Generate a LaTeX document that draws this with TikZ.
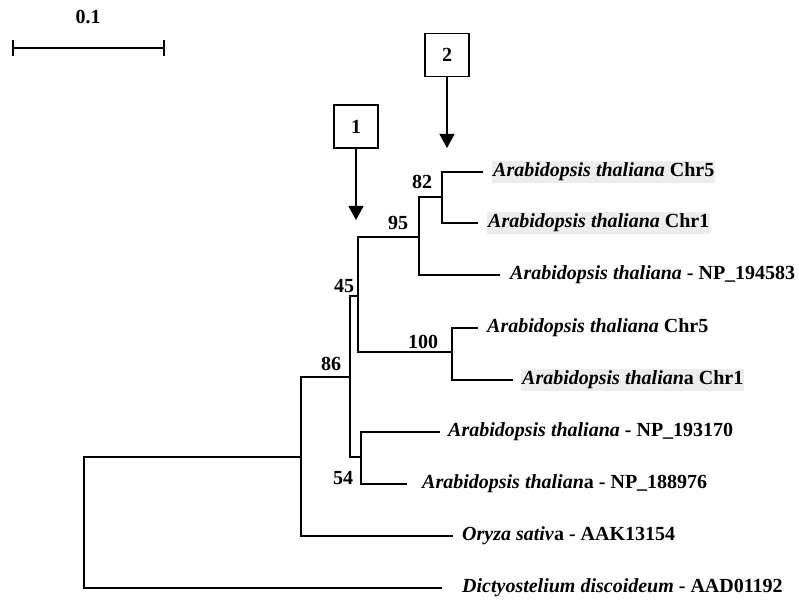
\documentclass[tikz,border=0pt]{standalone}
\usepackage{fontspec}
\setmainfont{Liberation Serif}
\usetikzlibrary{arrows.meta}
\begin{document}
\begin{tikzpicture}[x=1pt,y=-1pt,
  branch/.style={line width=1.3pt},
  txt/.style={font=\fontsize{20}{24}\selectfont\bfseries},
  leaf/.style={txt, anchor=west, inner xsep=1pt, inner ysep=2pt},
  hl/.style={fill=black!7},
  boot/.style={txt, inner sep=0pt},
  markbox/.style={draw, line width=1.2pt, txt, minimum width=44pt, minimum height=43pt, inner sep=0pt},
  pointer/.style={line width=1.2pt, -{Triangle[width=15pt,length=14pt]}}]
\useasboundingbox (0,0) rectangle (799,601);

% scale bar
\coordinate (sa) at (13,48);
\coordinate (sb) at (164,48);
\draw[branch] (sa) -- (sb);
\draw[branch] ([yshift=-8pt]sa) -- ([yshift=8pt]sa);
\draw[branch] ([yshift=-8pt]sb) -- ([yshift=8pt]sb);
\node[boot] (scale) at (88,17) {0.1};

% internal nodes (vertical line x, attachment y)
\coordinate (root) at (84,457);
\coordinate (n86) at (301,457);
\coordinate (nA) at (350,377);
\coordinate (n45) at (358,296);
\coordinate (n54) at (361,457);
\coordinate (n95) at (419,237);
\coordinate (n100) at (452,352);
\coordinate (n82) at (442,197);

% leaf ends
\coordinate (l1) at (483,172);
\coordinate (l2) at (478,223);
\coordinate (l3) at (500,275);
\coordinate (l4) at (478,328);
\coordinate (l5) at (513,380);
\coordinate (l6) at (440,432);
\coordinate (l7) at (407,484);
\coordinate (l8) at (453,536);
\coordinate (l9) at (442,588);

% branches
\draw[branch] (l1) -| (n82) |- (l2);
\draw[branch] (n82) -| (n95) |- (l3);
\draw[branch] (l4) -| (n100) |- (l5);
\draw[branch] (n95) -| (n45) |- (n100);
\draw[branch] (l6) -| (n54) |- (l7);
\draw[branch] (n45) -| (nA) |- (n54);
\draw[branch] (nA) -| (n86) |- (l8);
\draw[branch] (n86) -| (root) |- (l9);

% leaf labels
\node[leaf, hl] (t1) at ([xshift=9pt]l1) {\textit{Arabidopsis thaliana} Chr5};
\node[leaf, hl] (t2) at ([xshift=9pt]l2) {\textit{Arabidopsis thaliana} Chr1};
\node[leaf] (t3) at ([xshift=9pt]l3) {\textit{Arabidopsis thaliana} - NP\_194583};
\node[leaf] (t4) at ([xshift=8pt]l4) {\textit{Arabidopsis thaliana} Chr5};
\node[leaf, hl] (t5) at ([xshift=8pt]l5) {\textit{Arabidopsis thalian}a Chr1};
\node[leaf] (t6) at ([xshift=7pt]l6) {\textit{Arabidopsis thaliana} - NP\_193170};
\node[leaf] (t7) at ([xshift=14pt]l7) {\textit{Arabidopsis thalian}a - NP\_188976};
\node[leaf] (t8) at ([xshift=8pt]l8) {\textit{Oryza sativ}a - AAK13154};
\node[leaf] (t9) at ([xshift=19pt]l9) {\textit{Dictyostelium discoideum} - AAD01192};

% bootstrap values
\node[boot] (b82) at (422,182) {82};
\node[boot] (b95) at (398,223) {95};
\node[boot] (b45) at (344,286) {45};
\node[boot] (b100) at (423,342) {100};
\node[boot] (b86) at (331,364) {86};
\node[boot] (b54) at (343,478) {54};

% event markers
\node[markbox] (m1) at (356,126.5) {1};
\node[markbox] (m2) at (447,55) {2};
\coordinate (p1) at (356,220);
\coordinate (p2) at (447,148);
\draw[pointer] (m1.south) -- (p1);
\draw[pointer] (m2.south) -- (p2);
\end{tikzpicture}
\end{document}
